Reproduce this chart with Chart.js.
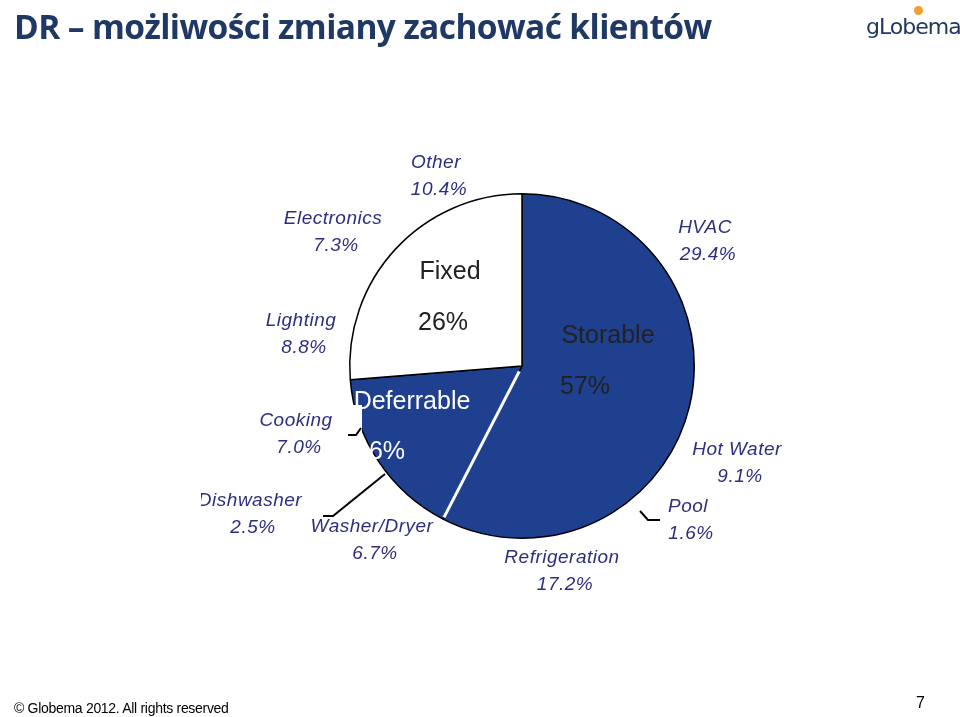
<!DOCTYPE html>
<html><head><meta charset="utf-8">
<script src="https://cdn.jsdelivr.net/npm/chart.js@4"></script>
<style>
body{margin:0;width:960px;height:717px;background:#fff;position:relative;overflow:hidden;font-family:"Liberation Sans",Arial,sans-serif}
#title{position:absolute;left:14px;top:3px;font-family:"Open Sans";font-weight:700;font-size:33.5px;color:#1f3864;letter-spacing:-0.6px;white-space:nowrap}
#logo{position:absolute;left:866px;top:14px;font-family:"DejaVu Sans";font-size:22px;color:#1f3864;letter-spacing:-1px}
#logo:before{content:"";position:absolute;left:48px;top:-8px;width:9px;height:9px;border-radius:50%;background:#f0a030}
#foot{position:absolute;left:14px;top:700px;font-family:"Liberation Sans";font-size:14px;color:#000;letter-spacing:-0.3px}
#page{position:absolute;left:916px;top:694px;font-family:"Liberation Sans";font-size:16px}
#c{position:absolute;left:0;top:0}
</style></head><body>
<canvas id="c" width="960" height="717"></canvas>
<div id="title">DR – możliwości zmiany zachować klientów</div>
<div id="logo">gLobema</div>
<div id="foot">© Globema 2012. All rights reserved</div>
<div id="page">7</div>
<script>
const categories=["Storable","Deferrable","Fixed"];
const shares=[57,16,26];
const groupColors=["#1f3f8f","#1f3f8f","#ffffff"];
const detailNames=["Other","Electronics","HVAC","Lighting","Cooking","Hot Water","Pool","Dishwasher","Washer/Dryer","Refrigeration"];
const detailValues=["10.4%","7.3%","29.4%","8.8%","7.0%","9.1%","1.6%","2.5%","6.7%","17.2%"];
const detailPos=[[436,163],[333,219],[705,228],[301,321],[296,421],[737,450],[688,507],[250,501],[372,527],[562,558]];
const centerPos=[[608,336],[412,402],[450,272]];
const centerPct=[[585,387],[380,452],[443,323]];
const overlay={id:'ov',afterDraw(ch){
  const x=ch.ctx;const arc=ch.getDatasetMeta(0).data[1];
  x.save();
  x.strokeStyle='#fff';x.lineWidth=3;
  const a=arc.startAngle;
  x.beginPath();x.moveTo(arc.x+6*Math.cos(a),arc.y+6*Math.sin(a));x.lineTo(arc.x+(arc.outerRadius-2)*Math.cos(a),arc.y+(arc.outerRadius-2)*Math.sin(a));x.stroke();
  x.textAlign='center';x.textBaseline='middle';
  x.font='25px "Liberation Sans"';
  categories.forEach((c,i)=>{x.fillStyle=i==1?'#fff':'#222';
    x.fillText(c,centerPos[i][0],centerPos[i][1]);
    x.fillText(shares[i]+'%',centerPct[i][0],centerPct[i][1]);});
  x.fillStyle='#fff';x.fillRect(250,405,112,56);
  x.strokeStyle='#000';x.lineWidth=2;
  [[[348,435],[356,435],[361,428]],[[323,516],[333,516],[385,474]],[[640,511],[648,520],[660,520]]].forEach(p=>{
    x.beginPath();x.moveTo(...p[0]);p.slice(1).forEach(q=>x.lineTo(...q));x.stroke();});
  x.font='italic 19px "Liberation Sans"';x.fillStyle='#2e2e80';
  x.letterSpacing='0.5px';
  detailNames.forEach((n,i)=>{const[px,py]=detailPos[i];
    x.fillText(n,px,py);x.fillText(detailValues[i],px+3,py+27);});
  x.fillStyle='#fff';x.fillRect(180,485,21,30);
  x.restore();}};
new Chart(document.getElementById('c'),{type:'pie',
 data:{labels:categories,datasets:[{data:shares,backgroundColor:groupColors,borderColor:'#000',borderWidth:1.5}]},
 options:{responsive:false,animation:false,events:[],
  layout:{padding:{left:349,right:265,top:193,bottom:178}},
  plugins:{legend:{display:false},tooltip:{enabled:false}}},
 plugins:[overlay]});
</script></body></html>
